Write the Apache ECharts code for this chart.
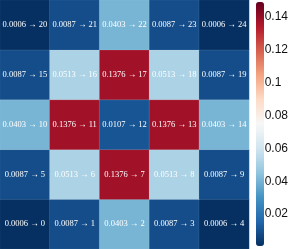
<!DOCTYPE html>
<html><head><meta charset="utf-8">
<script src="https://cdn.jsdelivr.net/npm/echarts@6/dist/echarts.min.js"></script>
<style>html,body{margin:0;padding:0;background:#fff}#c{width:291px;height:249px}</style>
</head><body><div id="c"></div>
<script>
const xCats = ['0','1','2','3','4'];
const yCats = ['0','1','2','3','4'];
// rows from bottom (row 0) to top (row 4)
const row0 = [0.0006, 0.0087, 0.0403, 0.0087, 0.0006];
const row1 = [0.0087, 0.0513, 0.1376, 0.0513, 0.0087];
const row2 = [0.0403, 0.1376, 0.0107, 0.1376, 0.0403];
const row3 = [0.0087, 0.0513, 0.1376, 0.0513, 0.0087];
const row4 = [0.0006, 0.0087, 0.0403, 0.0087, 0.0006];
const rows = [row0, row1, row2, row3, row4];
const colorMin = 0.0006;
const colorMax = 0.149;
const barTicks = [0.02, 0.04, 0.06, 0.08, 0.1, 0.12, 0.14];
const rdbu_r = ['#053061','#2166ac','#4393c3','#92c5de','#d1e5f0','#f7f7f7','#fddbc7','#f4a582','#d6604d','#b2182b','#67001f'];

const data = [];
rows.forEach((r, ri) => r.forEach((v, ci) => data.push([ci, ri, v, ri * 5 + ci])));

const chart = echarts.init(document.getElementById('c'));
chart.setOption({
  animation: false,
  grid: [
    {left: 0, top: 0, width: 249, height: 249},
    {left: 256, top: 2, width: 8, height: 244}
  ],
  xAxis: [
    {type: 'category', data: xCats, gridIndex: 0, show: false},
    {type: 'value', gridIndex: 1, show: false, min: 0, max: 1}
  ],
  yAxis: [
    {type: 'category', data: yCats, gridIndex: 0, show: false},
    {type: 'value', gridIndex: 1, position: 'right', min: colorMin, max: colorMax,
     axisLine: {show: false}, axisTick: {show: false}, splitLine: {show: false},
     axisLabel: {show: true, customValues: barTicks, margin: 3,
       color: '#111', fontSize: 12, fontFamily: 'Liberation Sans', fontWeight: 500,
       formatter: v => String(+v.toFixed(2))}}
  ],
  visualMap: {
    type: 'continuous', min: colorMin, max: colorMax, seriesIndex: 0, dimension: 2,
    calculable: false, orient: 'vertical', left: 256, top: 2,
    itemWidth: 8, itemHeight: 244, text: ['', ''], padding: 0, showLabel: false,
    inRange: {color: rdbu_r}
  },
  series: [{
    type: 'heatmap', xAxisIndex: 0, yAxisIndex: 0,
    data: data,
    encode: {x: 0, y: 1, value: 2},
    itemStyle: {borderColor: 'rgba(255,255,255,0.18)', borderWidth: 0.6},
    label: {show: true, color: '#fff', fontSize: 8.5, fontFamily: 'Liberation Serif',
      formatter: p => p.data[2].toFixed(4) + ' \u2192 ' + p.data[3]}
  }]
});
</script></body></html>
